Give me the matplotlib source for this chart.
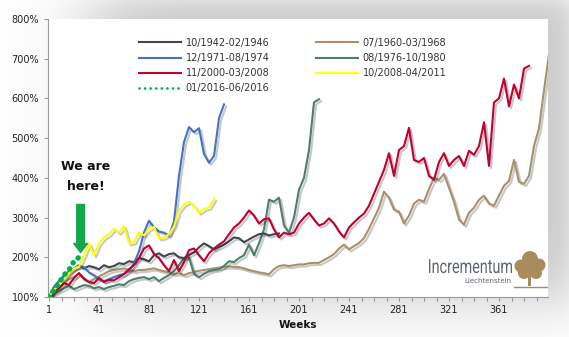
import numpy as np
import matplotlib.pyplot as plt
import matplotlib.patheffects as pe
from matplotlib.lines import Line2D
from matplotlib.patches import Circle, Rectangle, PathPatch
from matplotlib.textpath import TextPath
from matplotlib.font_manager import FontProperties
from matplotlib.transforms import Affine2D

# gold price paths, indexed to 100% at week 1, read every 4 weeks
step = 4
gold_1942 = [100, 125, 140, 150, 160, 172, 180, 172, 178, 175, 170, 180, 175, 178, 185, 183,
             190, 188, 198, 195, 190, 205, 210, 202, 208, 210, 200, 198, 206, 212, 225, 235,
             228, 220, 226, 232, 240, 250, 248, 238, 245, 252, 258, 260, 255, 258, 260]
gold_1960 = [100, 112, 120, 135, 145, 150, 160, 148, 138, 145, 152, 158, 165, 168, 170, 172,
             168, 165, 168, 168, 170, 172, 168, 165, 162, 158, 160, 155, 160, 163, 166, 168,
             170, 172, 174, 176, 177, 176, 175, 172, 168, 165, 162, 160, 157, 170, 178, 180,
             178, 180, 182, 182, 185, 186, 186, 193, 200, 208, 222, 232, 220, 228, 236, 248,
             272, 298, 325, 365, 350, 320, 315, 285, 305, 335, 345, 340, 372, 400, 395, 410,
             375, 340, 295, 282, 312, 325, 345, 355, 335, 330, 355, 380, 392, 445, 390, 385,
             405, 480, 525, 620, 712]
gold_1971 = [100, 125, 140, 155, 165, 172, 178, 175, 162, 155, 145, 140, 145, 150, 155, 158,
             165, 185, 215, 262, 292, 275, 265, 262, 255, 290, 405, 490, 528, 515, 525, 460,
             438, 455, 550, 585]
gold_1976 = [100, 108, 115, 122, 128, 120, 125, 130, 128, 122, 125, 120, 125, 128, 132, 130,
             140, 145, 148, 150, 145, 150, 140, 148, 155, 165, 180, 198, 200, 158, 150, 158,
             165, 168, 170, 178, 190, 188, 198, 205, 232, 205, 235, 270, 345, 340, 350, 280,
             262, 300, 370, 400, 470, 590, 598]
gold_2000 = [100, 115, 123, 135, 130, 148, 160, 145, 138, 135, 148, 138, 143, 142, 150, 158,
             170, 180, 198, 222, 230, 208, 198, 180, 165, 193, 165, 188, 218, 222, 205, 190,
             210, 222, 232, 240, 258, 275, 285, 300, 318, 305, 285, 296, 298, 270, 250, 262,
             258, 262, 285, 300, 312, 295, 280, 285, 298, 285, 265, 250, 275, 288, 300, 310,
             330, 360, 390, 420, 462, 405, 470, 480, 526, 445, 440, 450, 405, 395, 440, 462,
             430, 445, 455, 430, 468, 458, 480, 540, 430, 590, 600, 650, 580, 635, 600, 675,
             682]
gold_2008 = [100, 118, 130, 145, 160, 172, 176, 205, 235, 205, 235, 250, 258, 272, 262, 278,
             235, 238, 262, 255, 272, 276, 248, 250, 258, 278, 318, 333, 340, 330, 312, 322,
             325, 347]
gold_2016 = [100, 118, 135, 155, 168, 190, 200]

series = [
    ("10/1942-02/1946", gold_1942, "#3d4652"),
    ("07/1960-03/1968", gold_1960, "#a8916a"),
    ("12/1971-08/1974", gold_1971, "#4472c4"),
    ("08/1976-10/1980", gold_1976, "#4b7f6b"),
    ("11/2000-03/2008", gold_2000, "#c0002e"),
    ("10/2008-04/2011", gold_2008, "#ffff00"),
]
draw_order = ["07/1960-03/1968", "08/1976-10/1980", "10/1942-02/1946",
              "12/1971-08/1974", "11/2000-03/2008", "10/2008-04/2011"]

y_ticks = [100, 200, 300, 400, 500, 600, 700, 800]
x_labels = [1, 41, 81, 121, 161, 201, 241, 281, 321, 361]

W, H = 569, 337
fig = plt.figure(figsize=(W / 100, H / 100), dpi=100)
fig.patch.set_facecolor("white")

# soft shadow behind the white panel
bg = fig.add_axes([0, 0, 1, 1], zorder=0)
xx, yy = np.meshgrid(np.arange(W), np.arange(H))
sig = lambda t: 1 / (1 + np.exp(-t))
shade = 0.2 * sig((xx - 90) / 22) * sig((575 - xx) / 8) * sig((yy + 4) / 8) * sig((300 - yy) / 18)
img = np.clip(1 - shade, 0, 1)
bg.imshow(np.dstack([img, img, img]), extent=(0, W, H, 0), aspect="auto")
bg.set_xlim(0, W)
bg.set_ylim(H, 0)
bg.axis("off")

ax = fig.add_axes([48 / W, 40 / H, 500 / W, 278 / H], zorder=1)
ax.set_facecolor("white")

shadow = [pe.SimpleLineShadow(offset=(1.5, -1.5), alpha=0.22, shadow_color="k"), pe.Normal()]
lookup = {s[0]: s for s in series}
for name in draw_order:
    _, vals, col = lookup[name]
    wk = 1 + step * np.arange(len(vals))
    ax.plot(wk, vals, color=col, lw=1.5, path_effects=shadow, zorder=3)

wk16 = 1 + step * np.arange(len(gold_2016))
ax.plot(wk16, gold_2016, color="#00b050", lw=4.0, linestyle=(0, (0.01, 1.25)),
        dash_capstyle="round", zorder=5)

# "we are here" marker
ax.annotate("", xy=(26.3, 212), xytext=(26.3, 333),
            arrowprops=dict(arrowstyle="simple,head_length=0.65,head_width=1.0,tail_width=0.55",
                            color="#13a84a", mutation_scale=10, shrinkA=0, shrinkB=0), zorder=6)
ax.text(30.5, 428, "We are", ha="center", va="center", fontsize=9, fontweight="bold", color="#111111")
ax.text(30.5, 377, "here!", ha="center", va="center", fontsize=9, fontweight="bold", color="#111111")

ax.set_xlim(0.2, 400.2)
ax.set_ylim(100, 800)
ax.set_xticks(x_labels)
ax.set_xticklabels([str(v) for v in x_labels])
ax.set_xticks(np.arange(1, 400, 10), minor=True)
ax.set_yticks(y_ticks)
ax.set_yticklabels([f"{v}%" for v in y_ticks])
ax.tick_params(axis="both", which="both", direction="out", length=3, width=0.8, color="#9a9a9a",
               labelsize=7, labelcolor="#222222")
ax.tick_params(axis="x", pad=3)
for s in ["top", "right"]:
    ax.spines[s].set_visible(False)
for s in ["left", "bottom"]:
    ax.spines[s].set_color("#9a9a9a")
    ax.spines[s].set_linewidth(0.8)
ax.set_xlabel("Weeks", fontsize=7.5, fontweight="bold", labelpad=3, color="#111111")

handles = [Line2D([], [], color=lookup[n][2], lw=1.5) for n in
           ["10/1942-02/1946", "12/1971-08/1974", "11/2000-03/2008"]]
handles.append(Line2D([], [], color="#00b050", lw=2.0, linestyle=(0, (0.01, 2.0)), dash_capstyle="round"))
handles += [Line2D([], [], color=lookup[n][2], lw=1.5) for n in
            ["07/1960-03/1968", "08/1976-10/1980", "10/2008-04/2011"]]
labels = ["10/1942-02/1946", "12/1971-08/1974", "11/2000-03/2008", "01/2016-06/2016",
          "07/1960-03/1968", "08/1976-10/1980", "10/2008-04/2011"]
fig.legend(handles, labels, ncol=2, loc="upper left", bbox_to_anchor=(134 / W, 1 - 33 / H),
           frameon=False, fontsize=7, handlelength=4.3, handletextpad=0.5, columnspacing=4.8,
           labelspacing=0.52, borderpad=0, labelcolor="#333333")

# logo
ov = fig.add_axes([0, 0, 1, 1], zorder=2)
ov.set_xlim(0, W)
ov.set_ylim(H, 0)
ov.axis("off")
ov.patch.set_alpha(0)
logo = "#5f666e"
tp = TextPath((0, 0), "Incrementum", size=20, prop=FontProperties(family="Roboto", weight="normal"))
ext = tp.get_extents()
sx = 83 / ext.width
sy = 14 / ext.height
tr = Affine2D().translate(-ext.x0, 0).scale(sx, -sy).translate(429, 273)
ov.add_patch(PathPatch(tr.transform_path(tp), color=logo, lw=0))
ov.text(512, 283, "Liechtenstein", ha="right", va="baseline", fontsize=5, color=logo)
tan = "#a88c5c"
for cx, cy, r in [(521, 266, 6.5), (530, 259, 8), (539, 265, 6.5), (524, 273, 6), (536, 273, 6), (530, 267, 8)]:
    ov.add_patch(Circle((cx, cy), r, color=tan, lw=0))
ov.add_patch(Rectangle((528.5, 272), 3, 14, color=tan, lw=0))
ov.plot([514, 547], [287, 287], color=tan, lw=1)

fig.savefig("out.png", dpi=100)
